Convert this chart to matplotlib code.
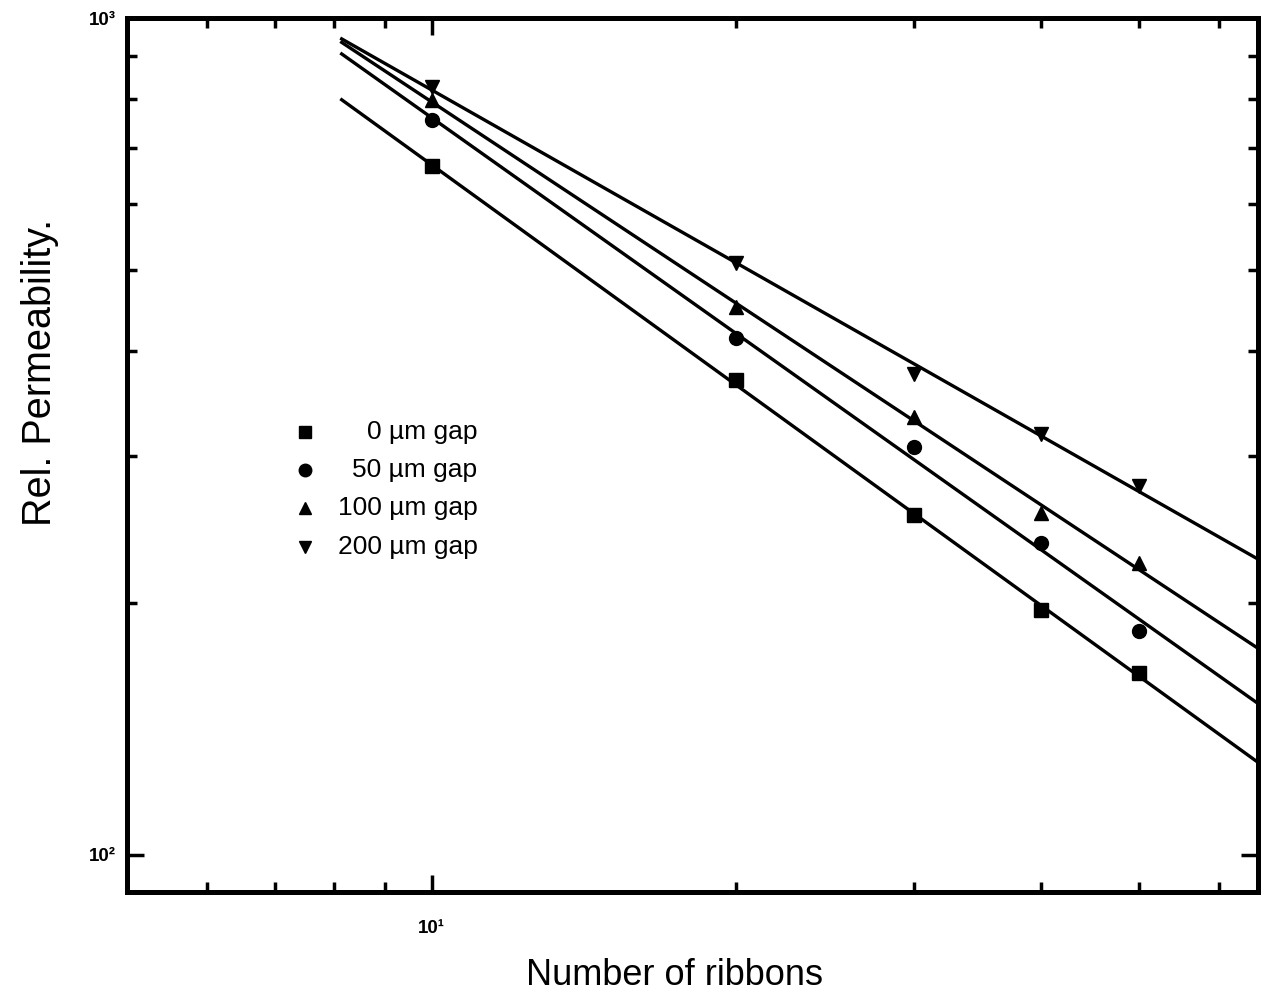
"""Relative permeability vs. number of ribbons, log-log with power-law fits."""
import matplotlib

matplotlib.use("Agg")
import matplotlib.pyplot as plt
import numpy as np
from matplotlib.ticker import FuncFormatter, LogLocator, NullFormatter

plt.rcParams["font.family"] = ["Liberation Sans", "DejaVu Sans"]

# Data.
n_ribbons = [10, 20, 30, 40, 50]
gap_labels = ["0 \u00b5m gap", "50 \u00b5m gap", "100 \u00b5m gap", "200 \u00b5m gap"]
gap_markers = ["s", "o", "^", "v"]
perm_0 = [665, 369, 255, 196, 165]
perm_50 = [755, 415, 307, 236, 185]
perm_100 = [798, 452, 334, 256, 223]
perm_200 = [827, 510, 376, 318, 276]
series = [perm_0, perm_50, perm_100, perm_200]

fit_start, fit_end = 8.15, 65.6
x_limits = (5.0, 65.6)
y_limits = (90.3, 1000.0)

SUPERSCRIPT = {1: "\u00b9", 2: "\u00b2", 3: "\u00b3"}


def decade_label(value, pos):
    exp = int(round(np.log10(value)))
    return "10" + SUPERSCRIPT.get(exp, str(exp))


fig = plt.figure(figsize=(12.69, 9.96), dpi=100)
ax = fig.add_axes([0.1001, 0.1044, 0.8912, 0.8775])

x_fit = np.geomspace(fit_start, fit_end, 50)
for values, marker in zip(series, gap_markers):
    ax.plot(n_ribbons, values, linestyle="none", marker=marker, color="black",
            markersize=10, zorder=3)
    slope, intercept = np.polyfit(np.log10(n_ribbons), np.log10(values), 1)
    ax.plot(x_fit, 10 ** (intercept + slope * np.log10(x_fit)), color="black",
            linewidth=2.4, zorder=2)

ax.set_xscale("log")
ax.set_yscale("log")
ax.set_xlim(*x_limits)
ax.set_ylim(*y_limits)

# Ticks on all four sides, pointing in.
for axis in (ax.xaxis, ax.yaxis):
    axis.set_major_locator(LogLocator(base=10))
    axis.set_minor_locator(LogLocator(base=10, subs=np.arange(2, 10)))
    axis.set_major_formatter(FuncFormatter(decade_label))
    axis.set_minor_formatter(NullFormatter())
ax.tick_params(which="both", direction="in", top=True, right=True, width=2.5)
ax.tick_params(which="major", length=12, labelsize=13.5, pad=8)
ax.tick_params(which="minor", length=7)
ax.tick_params(axis="x", which="major", pad=20)
for label in ax.get_xticklabels() + ax.get_yticklabels():
    label.set_fontweight("bold")

for spine in ax.spines.values():
    spine.set_linewidth(3.6)

ax.set_xlabel("Number of ribbons", fontsize=26, va="center")
ax.xaxis.set_label_coords(0.4845, -0.095)
ax.set_ylabel("Rel. Permeability.", fontsize=28.5, va="center")
ax.yaxis.set_label_coords(-0.0770, 0.594)

# Legend: markers on the left, right-aligned labels.
legend_rows = [0.526, 0.483, 0.439, 0.395]
for label, marker, row in zip(gap_labels, gap_markers, legend_rows):
    ax.plot([0.157], [row], marker=marker, color="black", markersize=9,
            linestyle="none", transform=ax.transAxes, clip_on=False)
    ax.text(0.310, row, label, transform=ax.transAxes, ha="right", va="center",
            fontsize=19)

fig.savefig("out.png", dpi=100)
